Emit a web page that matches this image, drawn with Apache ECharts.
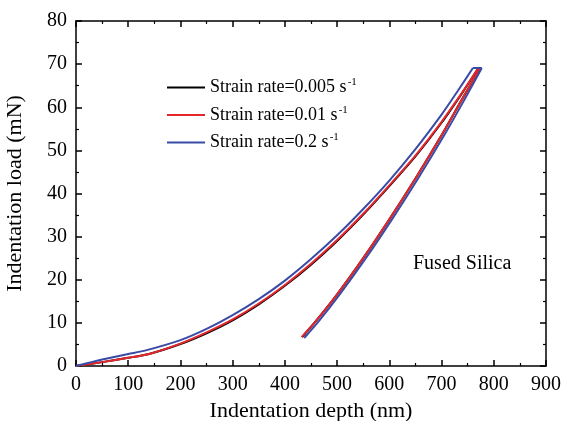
<!DOCTYPE html>
<html><head><meta charset="utf-8">
<script src="https://cdn.jsdelivr.net/npm/echarts@6/dist/echarts.min.js"></script>
<style>html,body{margin:0;padding:0;background:#fff}#c{width:565px;height:421px}</style>
</head><body><div id="c"></div>
<script>
// depth (nm) and load (mN) — loading, hold at peak, and unloading branches per strain rate
const loadDepth_0005   = [0,50,100,140,200,250,300,350,400,450,500,550,600,650,700,740,769];
const loadForce_0005   = [0,0.9,1.9,2.8,5.1,7.6,10.6,14.3,18.6,23.5,29.0,35.1,41.7,48.6,56.4,63.4,68.8];
const holdDepth_0005   = [769,773];
const holdForce_0005   = [68.8,68.8];
const unloadDepth_0005 = [433,460,500,550,600,650,700,740,773];
const unloadForce_0005 = [6.7,10.5,16.6,25.0,34.0,43.5,53.5,62.0,68.8];
const loadDepth_001    = [0,50,100,140,200,250,300,350,400,450,500,550,600,650,700,740,769];
const loadForce_001    = [0,0.9,1.9,2.8,5.2,7.8,10.8,14.5,18.8,23.7,29.2,35.3,41.9,48.8,56.6,63.5,68.8];
const holdDepth_001    = [769,773];
const holdForce_001    = [68.8,68.8];
const unloadDepth_001  = [432,460,500,550,600,650,700,740,773];
const unloadForce_001  = [6.7,10.5,16.6,25.0,34.0,43.5,53.5,62.0,68.8];
const loadDepth_02     = [0,50,100,130,200,250,300,350,400,450,500,550,600,650,700,730,760];
const loadForce_02     = [0,1.5,2.8,3.5,6.0,8.6,11.8,15.5,19.8,24.8,30.3,36.4,43.0,50.3,58.3,63.6,69.1];
const holdDepth_02     = [760,777];
const holdForce_02     = [69.1,69.1];
const unloadDepth_02   = [437,465,505,555,605,655,705,745,777];
const unloadForce_02   = [6.5,10.4,16.6,25.0,34.0,43.5,53.5,62.0,69.1];
const seriesNames = ['Strain rate=0.005 s', 'Strain rate=0.01 s', 'Strain rate=0.2 s'];
const xTicks = {min:0, max:900, step:100};
const yTicks = {min:0, max:80, step:10};
const annotation = 'Fused Silica';

function pairs(xs, ys){ return xs.map((x,i)=>[x, ys[i]]); }
const colors = ['#000000', '#e5262b', '#3a4ba6'];
const serif = '"Liberation Serif","Times New Roman",serif';
const chart = echarts.init(document.getElementById('c'));
const loadings = [pairs(loadDepth_0005, loadForce_0005), pairs(loadDepth_001, loadForce_001), pairs(loadDepth_02, loadForce_02)];
const holds = [pairs(holdDepth_0005, holdForce_0005), pairs(holdDepth_001, holdForce_001), pairs(holdDepth_02, holdForce_02)];
const unloadings = [pairs(unloadDepth_0005, unloadForce_0005), pairs(unloadDepth_001, unloadForce_001), pairs(unloadDepth_02, unloadForce_02)];

const tickCommon = {
  axisLine: {show:true, onZero:false, lineStyle:{color:'#000', width:1.5}},
  axisTick: {show:true, inside:true, length:6, lineStyle:{color:'#000', width:1.5}},
  minorTick: {show:true, splitNumber:2, length:3, lineStyle:{color:'#000', width:1.2}},
  splitLine: {show:false}
};

const series = [];
seriesNames.forEach((n,i)=>{
  [[loadings[i], 0.25], [holds[i], false], [unloadings[i], 0.25]].forEach(([d, sm])=>{
    series.push({name:n, type:'line', data:d, showSymbol:false, symbol:'none',
      smooth:sm,
      lineStyle:{color:colors[i], width:2, join:'miter'}, itemStyle:{color:colors[i]}, z:2+i});
  });
});

chart.setOption({
  animation:false,
  backgroundColor:'#fff',
  grid:{left:76, right:19, top:21, bottom:55, containLabel:false, outerBoundsMode:'none'},
  legend:{
    orient:'vertical', left:162, top:72, itemGap:8, itemWidth:38, itemHeight:21,
    icon:'path://M0,9.5 L40,9.5 L40,11.5 L0,11.5 Z',
    data: seriesNames,
    formatter: n => '{a|' + n + '}{s|-1}',
    textStyle:{
      rich:{
        a:{fontFamily:serif, fontSize:18, color:'#000', lineHeight:21},
        s:{fontFamily:serif, fontSize:11, color:'#000', lineHeight:21, verticalAlign:'top', padding:[0,0,0,1]}
      }
    }
  },
  xAxis:[
    Object.assign({type:'value', position:'bottom', min:xTicks.min, max:xTicks.max, interval:xTicks.step,
      name:'Indentation depth (nm)', nameLocation:'middle', nameGap:34,
      nameTextStyle:{fontFamily:serif, fontSize:22, color:'#000'},
      axisLabel:{fontFamily:serif, fontSize:20, color:'#000', margin:9}}, tickCommon),
    Object.assign({type:'value', position:'top', min:xTicks.min, max:xTicks.max, interval:xTicks.step,
      axisLabel:{show:false}}, tickCommon)
  ],
  yAxis:[
    Object.assign({type:'value', position:'left', min:yTicks.min, max:yTicks.max, interval:yTicks.step,
      name:'Indentation load (mN)', nameLocation:'middle', nameGap:50, nameRotate:90,
      nameTextStyle:{fontFamily:serif, fontSize:22, color:'#000'},
      axisLabel:{fontFamily:serif, fontSize:20, color:'#000', margin:9}}, tickCommon),
    Object.assign({type:'value', position:'right', min:yTicks.min, max:yTicks.max, interval:yTicks.step,
      axisLabel:{show:false}}, tickCommon)
  ],
  graphic:[{
    type:'text', left:413, top:254,
    style:{text:annotation, fontFamily:serif, fontSize:20, fill:'#000'}
  }],
  series: series
});
</script></body></html>
